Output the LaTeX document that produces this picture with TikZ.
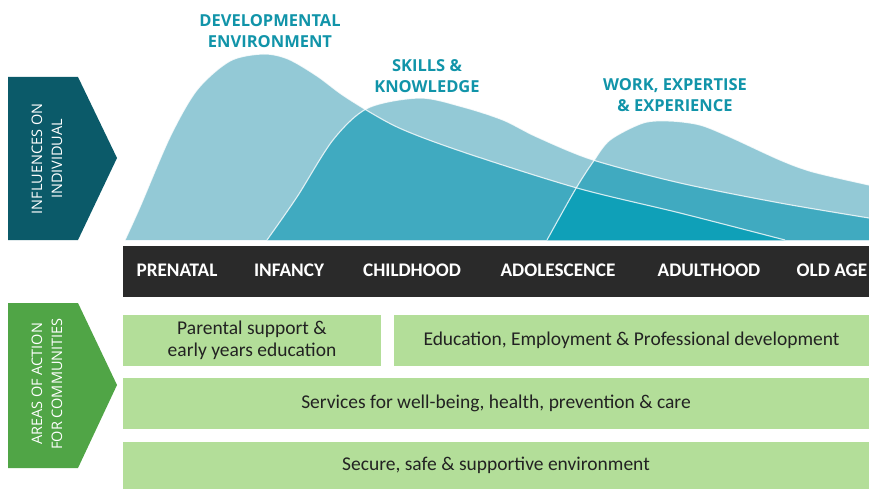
\documentclass[tikz,border=0pt]{standalone}
\usepackage{fontspec}
\setmainfont{Carlito}
\newfontfamily\headfont{Open Sans}
\definecolor{lightteal}{HTML}{93C9D6}
\definecolor{midteal}{HTML}{40AAC0}
\definecolor{darkteal}{HTML}{0FA0B8}
\definecolor{headteal}{HTML}{1194A9}
\definecolor{sideteal}{HTML}{0B5A69}
\definecolor{sidegreen}{HTML}{50A546}
\definecolor{areagreen}{HTML}{B3DE99}
\definecolor{barblack}{HTML}{2A2A2A}
\definecolor{textgray}{HTML}{222222}

\begin{document}
\begin{tikzpicture}[x=1pt,y=-1pt,stage/.style={text=white,font=\bfseries\fontsize{19.2}{21}\selectfont},area/.style={fill=areagreen,inner sep=0pt,minimum height=51pt,text=textgray,align=center,font=\fontsize{19.5}{22}\selectfont},heading/.style={text=headteal,align=center,font=\headfont\bfseries\fontsize{16.5}{21}\selectfont},side/.style={text=white,align=center,rotate=90,font=\headfont\fontsize{14.5}{20}\selectfont},edge/.style={white,opacity=0.8,line width=1.1pt}]
\useasboundingbox (0,0) rectangle (869,489);
\def\edgeA{plot[smooth] coordinates {(125,240) (140,207) (170,137) (197,90) (230,61) (263,54) (288,59) (317,76) (347,98) (397,127) (463,152) (577,188) (680,213) (785,240)}}
\def\edgeB{plot[smooth] coordinates {(267,240) (297,197) (333,140) (368,108) (420,98) (463,107) (503,120) (537,137) (593,160) (680,183) (780,203) (869,218)}}
\def\edgeC{plot[smooth] coordinates {(547,240) (575,190) (593,162) (610,140) (643,123) (670,121) (700,125) (730,137) (780,160) (813,172) (869,185)}}

\fill[sideteal] (8,77) -- (78,77) -- (117,158) -- (78,240) -- (8,240) -- cycle;
\node[side] (influence) at (47,159) {INFLUENCES ON\\INDIVIDUAL};
\fill[sidegreen] (8,303) -- (78,303) -- (117,385) -- (78,468) -- (8,468) -- cycle;
\node[side] (action) at (47,384) {AREAS OF ACTION\\FOR COMMUNITIES};

\fill[lightteal] \edgeA -- cycle;
\fill[lightteal] \edgeB -- (869,240) -- cycle;
\fill[lightteal] \edgeC -- (869,240) -- cycle;
\begin{scope}
\clip \edgeA -- cycle;
\fill[midteal] \edgeB -- (869,240) -- cycle;
\end{scope}
\begin{scope}
\clip \edgeC -- (869,240) -- cycle;
\fill[midteal] \edgeB -- (869,240) -- cycle;
\end{scope}
\begin{scope}
\clip \edgeA -- cycle;
\clip \edgeC -- (869,240) -- cycle;
\fill[darkteal] \edgeB -- (869,240) -- cycle;
\end{scope}
\draw[edge] \edgeA;
\draw[edge] \edgeB;
\draw[edge] \edgeC;

\node[heading] (devenv) at (270,31) {DEVELOPMENTAL\\ENVIRONMENT};
\node[heading] (skills) at (427,76) {SKILLS \&\\KNOWLEDGE};
\node[heading] (work) at (675,95) {WORK, EXPERTISE\\\& EXPERIENCE};

\fill[barblack] (123,246) rectangle (869,297);
\node[stage] (prenatal) at (177,270) {PRENATAL};
\node[stage] (infancy) at (289,270) {INFANCY};
\node[stage] (childhood) at (412,270) {CHILDHOOD};
\node[stage] (adolescence) at (558,270) {ADOLESCENCE};
\node[stage] (adulthood) at (709,270) {ADULTHOOD};
\node[stage] (oldage) at (832,270) {OLD AGE};

\node[area,minimum width=258pt] (parental) at (252,340.5) {Parental support \&\\early years education};
\node[area,minimum width=475pt] (education) at (631.5,340.5) {Education, Employment \& Professional development};
\node[area,minimum width=746pt] (services) at (496,403.5) {Services for well-being, health, prevention \& care};
\node[area,minimum width=746pt,minimum height=47pt] (secure) at (496,465.5) {Secure, safe \& supportive environment};
\end{tikzpicture}
\end{document}
